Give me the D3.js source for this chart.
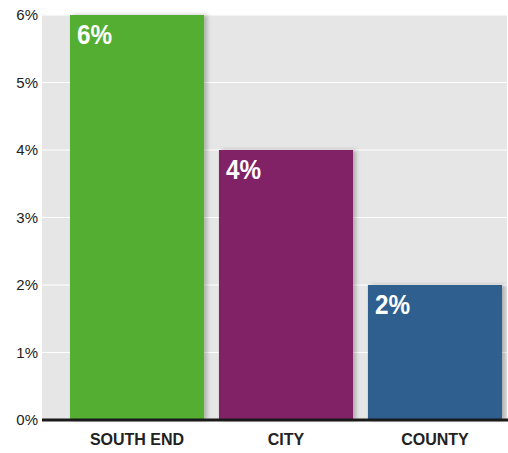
<!DOCTYPE html>
<html>
<head>
<meta charset="utf-8">
<script src="https://cdn.jsdelivr.net/npm/d3@7"></script>
<style>
  body { margin: 0; background: #fff; }
  svg { display: block; }
</style>
</head>
<body>
<div id="chart"></div>
<script>
// chart values
var regions = ["SOUTH END", "CITY", "COUNTY"]
var rates = [6, 4, 2]          // percent
var barColors = ["#52ae32", "#822366", "#2d5f8e"]
var yTicks = [0, 1, 2, 3, 4, 5, 6]

const width = 508
const height = 453
const margin = {top: 15, right: 1, bottom: 33, left: 42}

const svg = d3.select("#chart").append("svg")
  .attr("width", width)
  .attr("height", height)

// soft shadow on the right side of bars
var defs = svg.append("defs")
var f = defs.append("filter").attr("id", "shadow")
  .attr("x", "-5%").attr("y", "-5%").attr("width", "115%").attr("height", "110%")
f.append("feDropShadow")
  .attr("dx", 3).attr("dy", 0).attr("stdDeviation", 2)
  .attr("flood-color", "#000").attr("flood-opacity", 0.25)

var y = d3.scaleLinear()
  .domain([0, 6])
  .range([height - margin.bottom, margin.top])

var x = d3.scaleBand()
  .domain(regions)
  .range([70, 502])
  .paddingInner(0.1)
  .paddingOuter(0)

// grey plot background
svg.append("rect")
  .attr("x", margin.left)
  .attr("y", margin.top)
  .attr("width", width - margin.left - margin.right)
  .attr("height", y(0) - margin.top)
  .attr("fill", "#e6e6e6")

// gridlines
svg.append("g")
  .selectAll("line")
  .data(yTicks.slice(1))
  .enter()
  .append("line")
  .attr("x1", margin.left)
  .attr("x2", width - margin.right)
  .attr("y1", function(d){ return y(d) })
  .attr("y2", function(d){ return y(d) })
  .attr("stroke", "#fff")
  .attr("stroke-width", 1)

// y axis labels
var yAxis = svg.append("g")
  .attr("transform", "translate(" + margin.left + ",0)")
  .call(d3.axisLeft(y).tickValues(yTicks).tickSize(0).tickPadding(4)
    .tickFormat(function(d){ return d + "%" }))
yAxis.select(".domain").remove()
yAxis.selectAll("text")
  .style("font-family", "'Liberation Sans', Arial, sans-serif")
  .style("font-size", "15px")
  .style("fill", "#222")

// bars
svg.append("g")
  .selectAll("rect")
  .data(d3.zip(regions, rates, barColors))
  .enter()
  .append("rect")
  .attr("x", function(d){ return x(d[0]) })
  .attr("y", function(d){ return y(d[1]) })
  .attr("width", x.bandwidth())
  .attr("height", function(d){ return y(0) - y(d[1]) })
  .attr("fill", function(d){ return d[2] })
  .attr("filter", "url(#shadow)")

// value labels inside bars (condensed look)
svg.append("g")
  .selectAll("text")
  .data(d3.zip(regions, rates))
  .enter()
  .append("text")
  .attr("transform", function(d){
    return "translate(" + (x(d[0]) + 7) + "," + (y(d[1]) + 29) + ") scale(0.9,1)"
  })
  .style("font-family", "'Liberation Sans', Arial, sans-serif")
  .style("font-weight", "bold")
  .style("font-size", "27px")
  .style("fill", "#fff")
  .text(function(d){ return d[1] + "%" })

// zero baseline
svg.append("line")
  .attr("x1", margin.left)
  .attr("x2", width)
  .attr("y1", y(0))
  .attr("y2", y(0))
  .attr("stroke", "#1a1a1a")
  .attr("stroke-width", 3)

// x axis labels
var xAxis = svg.append("g")
  .attr("transform", "translate(0," + y(0) + ")")
  .call(d3.axisBottom(x).tickSize(0).tickPadding(14))
xAxis.select(".domain").remove()
xAxis.selectAll("text")
  .style("font-family", "'Liberation Sans', Arial, sans-serif")
  .style("font-weight", "bold")
  .style("font-size", "16px")
  .style("fill", "#222")
</script>
</body>
</html>
